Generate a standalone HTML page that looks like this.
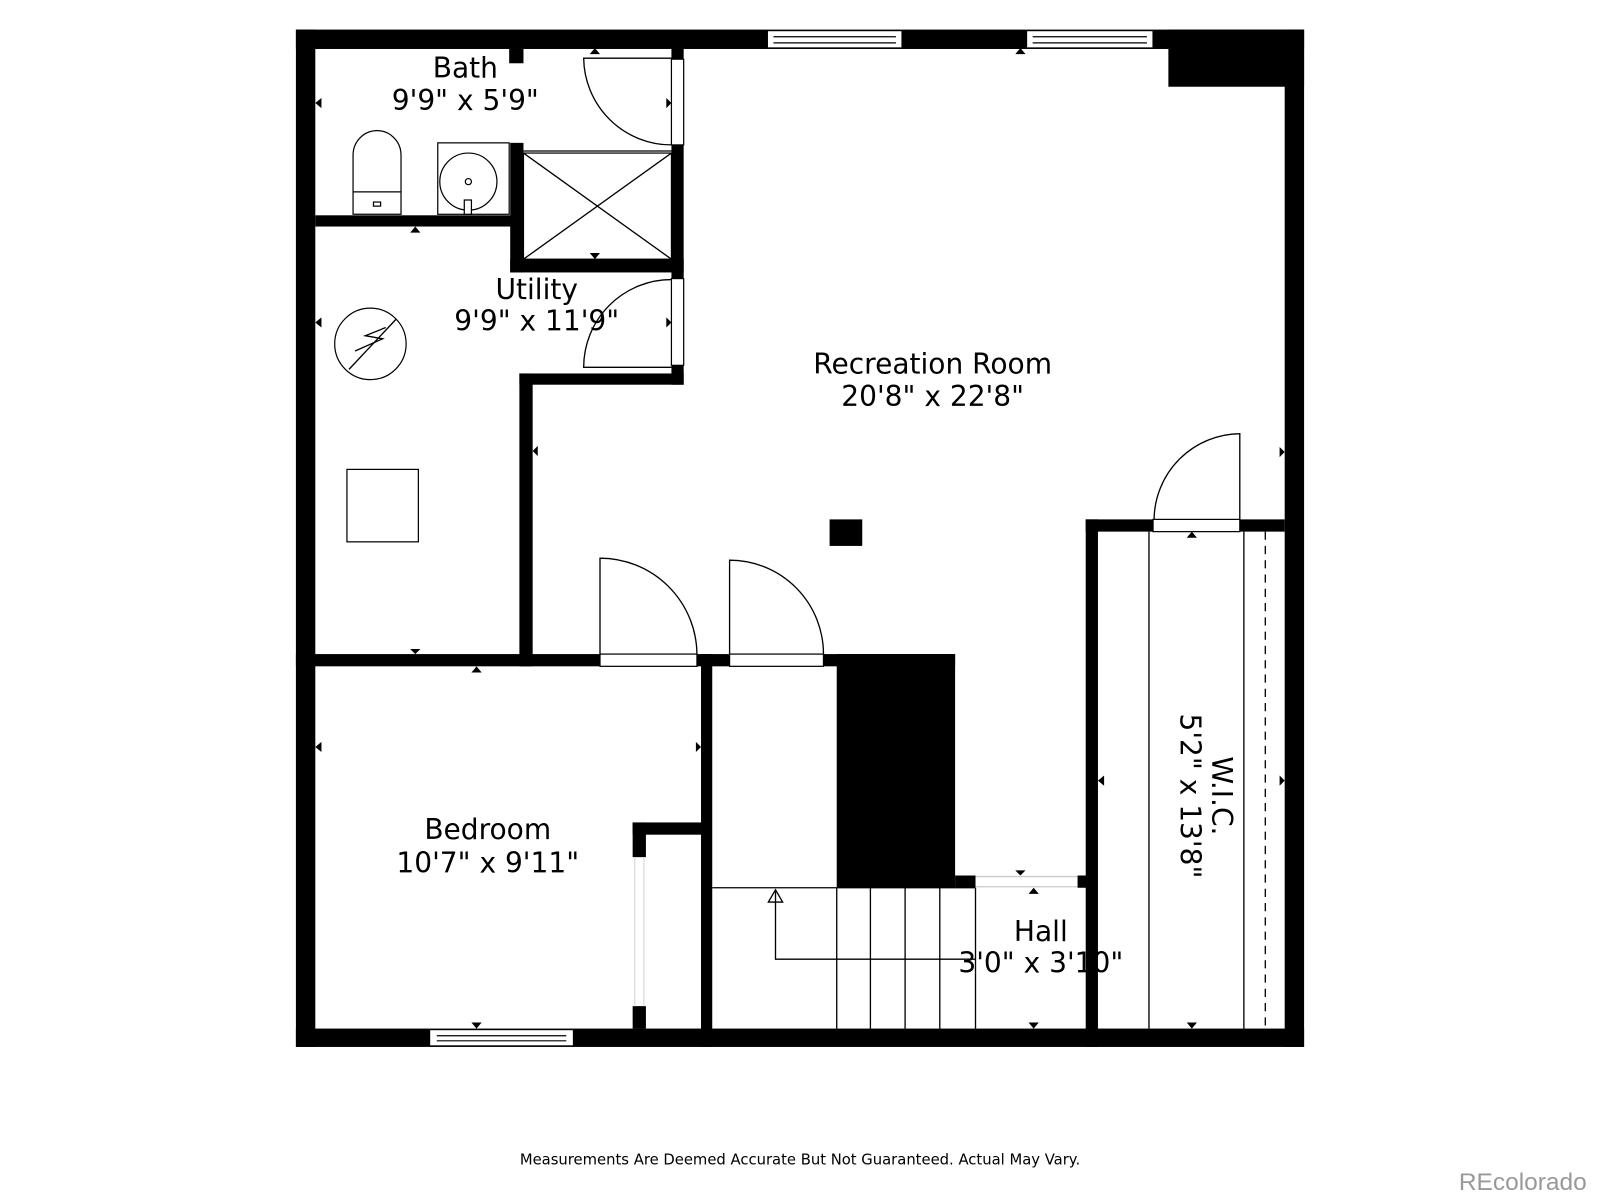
<!DOCTYPE html>
<html><head><meta charset="utf-8"><style>
html,body{margin:0;padding:0;background:#fff;}
svg{display:block;}
text{font-family:"DejaVu Sans","Liberation Sans",sans-serif;fill:#000;}
</style></head><body>
<svg width="1600" height="1200" viewBox="0 0 1568 1176" xmlns="http://www.w3.org/2000/svg">
<rect width="1568" height="1176" fill="#fff"/>
<g fill="#000">
<rect x="290" y="29" width="988" height="19"/>
<rect x="290" y="29" width="19" height="997"/>
<rect x="1259" y="29" width="19" height="997"/>
<rect x="290" y="1008" width="988" height="18"/>
<rect x="1145" y="29" width="133" height="56"/>
<rect x="499" y="48" width="14" height="14"/>
<rect x="309" y="211" width="204" height="11"/>
<rect x="500" y="140" width="13" height="127"/>
<rect x="500" y="254" width="170" height="13"/>
<rect x="658" y="48" width="12" height="10"/>
<rect x="658" y="142" width="12" height="131"/>
<rect x="658" y="358" width="12" height="19"/>
<rect x="509" y="366" width="161" height="11"/>
<rect x="509" y="366" width="13" height="287"/>
<rect x="290" y="641" width="298" height="12"/>
<rect x="683" y="641" width="32" height="12"/>
<rect x="807" y="641" width="129" height="12"/>
<rect x="687" y="641" width="11" height="385"/>
<rect x="820" y="641" width="116" height="229"/>
<rect x="936" y="858" width="20" height="12"/>
<rect x="1056" y="858" width="10" height="12"/>
<rect x="620" y="806" width="67" height="12"/>
<rect x="620" y="806" width="13" height="34"/>
<rect x="620" y="986" width="13" height="22"/>
<rect x="1064" y="509" width="12" height="517"/>
<rect x="1064" y="509" width="66" height="12"/>
<rect x="1215" y="509" width="44" height="12"/>
<rect x="813" y="509" width="32" height="26"/>
</g>
<g fill="#fff" stroke="#000" stroke-width="1.2">
<rect x="752" y="30" width="132" height="17"/><line x1="758" y1="36" x2="878" y2="36"/><line x1="758" y1="42" x2="878" y2="42"/>
<rect x="1006" y="30" width="124" height="17"/><line x1="1012" y1="36" x2="1124" y2="36"/><line x1="1012" y1="42" x2="1124" y2="42"/>
<rect x="421" y="1009" width="141" height="16"/><line x1="428" y1="1015" x2="555" y2="1015"/><line x1="428" y1="1020" x2="555" y2="1020"/>
<rect x="588" y="641" width="95" height="12"/>
<rect x="715" y="641" width="92" height="12"/>
<rect x="1130" y="509" width="85" height="12"/>
<rect x="658" y="58" width="12" height="84"/>
<rect x="658" y="273" width="12" height="85"/>
<path d="M346 210 V152 A23.5 24 0 0 1 393 152 V210 Z"/>
<line x1="346" y1="188" x2="393" y2="188"/>
<rect x="366" y="198" width="7" height="4"/>
<rect x="429" y="140" width="70" height="70"/>
<circle cx="459" cy="178" r="28"/>
<circle cx="459" cy="178" r="3"/>
<rect x="455" y="196" width="7" height="14"/>
<rect x="513" y="150" width="145" height="104"/>
<rect x="340" y="460" width="70" height="71"/>
<circle cx="363" cy="337" r="35"/>
</g>
<g fill="none" stroke="#000" stroke-width="1.3">
<line x1="513" y1="150" x2="658" y2="254"/><line x1="658" y1="150" x2="513" y2="254"/>
<line x1="513" y1="148" x2="658" y2="148"/>
<line x1="342" y1="362" x2="388" y2="313"/>
<path d="M348 344 L375 332 L358 329 L378 321" transform="translate(0,0)"/>
<path d="M658 57 H572 A86 86 0 0 0 658 142"/>
<path d="M658 360 H572 A86 86 0 0 1 658 274"/>
<path d="M588 641 V547 A95 95 0 0 1 683 641"/>
<path d="M715 641 V549 A92 92 0 0 1 807 641"/>
<path d="M1215 509 V425 A85 85 0 0 0 1131 509"/>
<line x1="622" y1="840" x2="622" y2="986" stroke="#ddd"/>
<line x1="631" y1="840" x2="631" y2="986" stroke="#ddd"/>
<line x1="698" y1="870" x2="956" y2="870"/>
<line x1="820" y1="870" x2="820" y2="1008"/>
<line x1="853" y1="870" x2="853" y2="1008"/>
<line x1="887" y1="870" x2="887" y2="1008"/>
<line x1="921" y1="870" x2="921" y2="1008"/>
<line x1="956" y1="870" x2="956" y2="1008"/>
<path d="M956 940 H760 V872"/>
<path d="M753 884 L760 872 L767 884 Z"/>
<line x1="956" y1="859" x2="1056" y2="859" stroke="#ccc"/>
<line x1="956" y1="869" x2="1056" y2="869" stroke="#ccc"/>
<line x1="1126" y1="521" x2="1126" y2="1008"/>
<line x1="1219" y1="521" x2="1219" y2="1008"/>
<line x1="1240" y1="521" x2="1240" y2="1008" stroke-dasharray="8,6"/>
</g>
<g fill="#000">
<path d="M578 53 L583 47 L588 53Z"/><path d="M995 53 L1000 47 L1005 53Z"/>
<path d="M402 228 L407 222 L412 228Z"/><path d="M578 248 L583 254 L588 248Z"/>
<path d="M402 636 L407 641 L412 636Z"/><path d="M462 659 L467 653 L472 659Z"/>
<path d="M1163 527 L1168 521 L1173 527Z"/><path d="M1008 876 L1013 870 L1018 876Z"/>
<path d="M995 853 L1000 858 L1005 853Z"/><path d="M462 1002 L467 1008 L472 1002Z"/>
<path d="M1008 1002 L1013 1008 L1018 1002Z"/><path d="M1163 1002 L1168 1008 L1173 1002Z"/>
<path d="M315 96 L309 101 L315 106Z"/><path d="M653 96 L658 101 L653 106Z"/>
<path d="M315 311 L309 316 L315 321Z"/><path d="M653 311 L658 316 L653 321Z"/>
<path d="M527 437 L522 442 L527 447Z"/><path d="M1254 438 L1259 443 L1254 448Z"/>
<path d="M315 727 L309 732 L315 737Z"/><path d="M682 727 L687 732 L682 737Z"/>
<path d="M1082 760 L1076 765 L1082 770Z"/><path d="M1254 760 L1259 765 L1254 770Z"/>
</g>
<g font-size="27.5" text-anchor="middle">
<text x="456" y="76">Bath</text>
<text x="456" y="108">9'9" x 5'9"</text>
<text x="526" y="293">Utility</text>
<text x="526" y="324">9'9" x 11'9"</text>
<text x="914" y="366">Recreation Room</text>
<text x="914" y="398">20'8" x 22'8"</text>
<text x="478" y="822">Bedroom</text>
<text x="478" y="855">10'7" x 9'11"</text>
<text x="1020" y="922">Hall</text>
<text x="1020" y="953">3'0" x 3'10"</text>
<g transform="translate(1178,780) rotate(90)">
<text x="0" y="-10">W.I.C.</text>
<text x="0" y="21">5'2" x 13'8"</text>
</g>
</g>
<text x="784" y="1141" font-size="14.5" text-anchor="middle">Measurements Are Deemed Accurate But Not Guaranteed. Actual May Vary.</text>
<text x="1555" y="1166" font-size="24" text-anchor="end" style="font-family:'Liberation Sans',sans-serif;fill:#999">REcolorado</text>
</svg>
</body></html>
